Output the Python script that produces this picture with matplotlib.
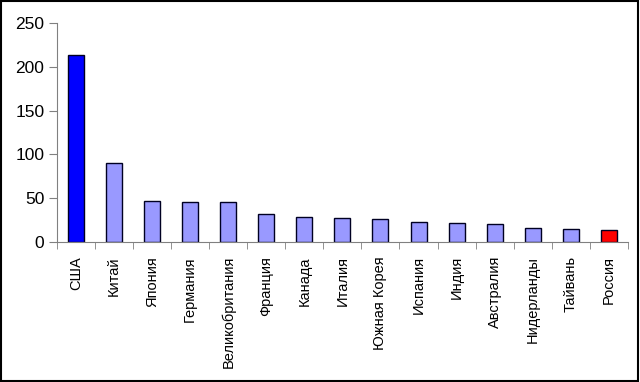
import matplotlib
matplotlib.use('Agg')
import matplotlib.pyplot as plt
from matplotlib.ticker import FixedLocator
import numpy as np

countries = ['США', 'Китай', 'Япония', 'Германия', 'Великобритания', 'Франция',
             'Канада', 'Италия', 'Южная Корея', 'Испания', 'Индия', 'Австралия',
             'Нидерланды', 'Тайвань', 'Россия']
values = [213, 90, 47, 46, 46, 32, 29, 28, 26, 23, 22, 20.5, 16, 15, 14]
colors = ['#0000ff'] + ['#9999ff'] * 13 + ['#ff0000']

yticks = [0, 50, 100, 150, 200, 250]

plt.rcParams['font.family'] = ['Liberation Sans', 'DejaVu Sans']

fig = plt.figure(figsize=(6.4, 3.82), dpi=100)
ax = fig.add_axes([0.089, 0.366, 0.892, 0.574])

x = np.arange(len(countries))
ax.bar(x, values, width=0.42, color=colors, edgecolor='#000022', linewidth=1.0)

ax.set_xlim(-0.5, len(countries) - 0.5)
ax.set_ylim(0, 250)
ax.set_yticks(yticks)
ax.tick_params(axis='y', labelsize=12.5, length=6, color='#808080', pad=3)

ax.set_xticks(x)
ax.set_xticklabels(countries, rotation=90, fontsize=10.5)
ax.tick_params(axis='x', which='major', length=0, pad=10)
ax.xaxis.set_minor_locator(FixedLocator(np.arange(-0.5, len(countries), 1.0)))
ax.tick_params(axis='x', which='minor', length=5, color='#808080')

for side in ('top', 'right'):
    ax.spines[side].set_visible(False)
for side in ('left', 'bottom'):
    ax.spines[side].set_color('#808080')

# black frame around the whole picture
fig.patches.append(plt.Rectangle((0.002, 0.003), 0.995, 0.994, transform=fig.transFigure,
                                 fill=False, edgecolor='black', linewidth=1.5))

fig.savefig('out.png', dpi=100)
